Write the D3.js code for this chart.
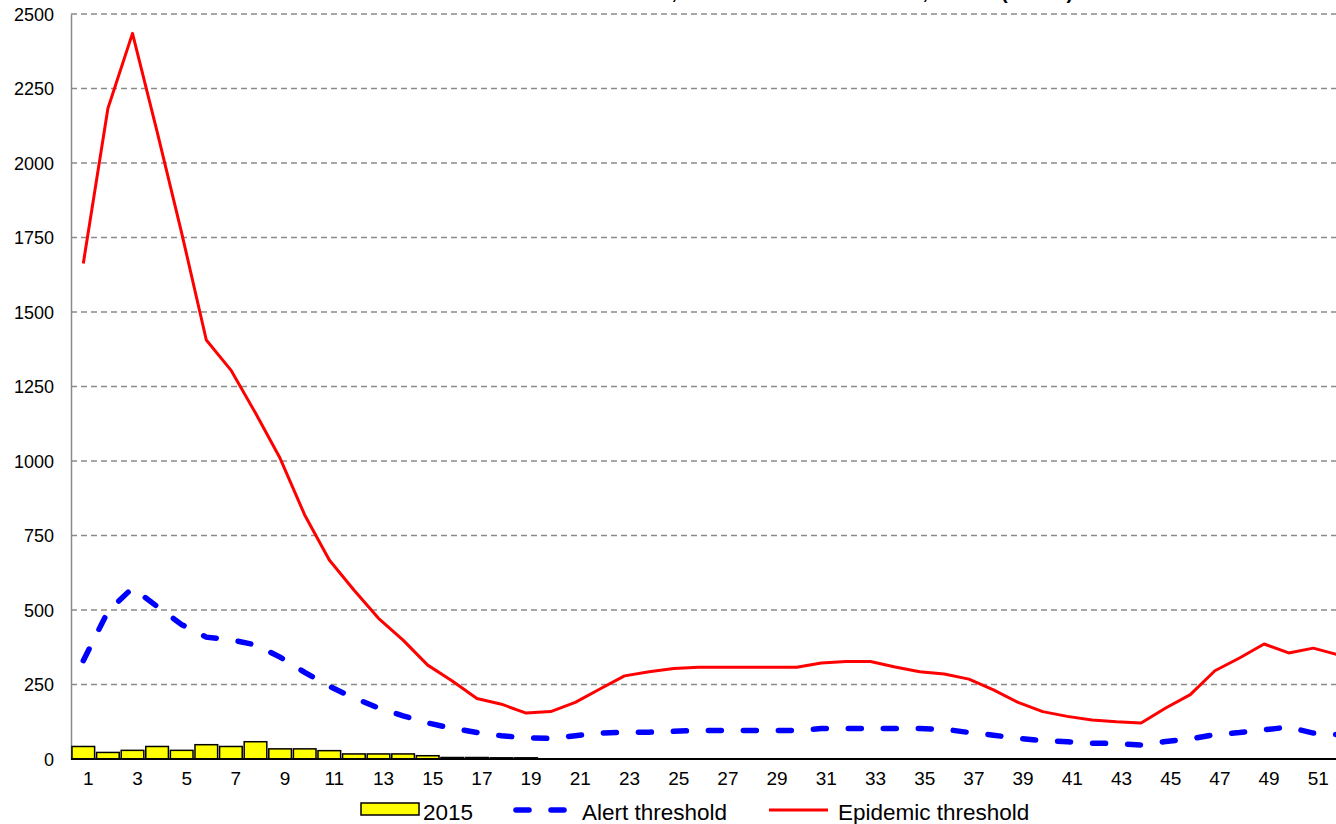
<!DOCTYPE html>
<html>
<head>
<meta charset="utf-8">
<script src="https://cdn.jsdelivr.net/npm/d3@7"></script>
<style>
	body { margin: 0; background: #fff; overflow: hidden; }
	svg { display: block; font-family: Arial, "Liberation Sans", sans-serif; }
</style>
</head>
<body>
<div id="chart"></div>
<script>
// weeks 1..52
var weeks = d3.range(1, 53);
var weekLabels = weeks.filter(function(w){ return w % 2 === 1; });
var yTicks = [0, 250, 500, 750, 1000, 1250, 1500, 1750, 2000, 2250, 2500];

// 2015 cases (weeks 1..19)
var cases2015 = [42, 22, 29, 42, 29, 48, 42, 58, 34, 34, 28, 17, 17, 17, 11, 5, 5, 4, 4];

var alertThreshold = [330, 495, 574, 512, 451, 409, 400, 383, 342, 291,
	244, 205, 171, 145, 121, 103, 89, 78, 71, 69,
	78, 87, 90, 90, 93, 96, 96, 96, 96, 96,
	102, 102, 102, 102, 102, 100, 89, 80, 69, 62,
	58, 53, 52, 47, 59, 67, 82, 89, 98, 107,
	87, 82];

var epidemicThreshold = [1663, 2183, 2435, 2105, 1765, 1406, 1305, 1161, 1009, 819,
	668, 567, 472, 399, 315, 262, 203, 184, 154, 159,
	190, 235, 279, 293, 304, 308, 308, 308, 308, 308,
	322, 327, 327, 309, 293, 285, 268, 232, 190, 159,
	143, 131, 125, 121, 171, 216, 296, 339, 386, 356,
	372, 350];

var width = 1336, height = 824;
var plotLeft = 71, plotTop = 14, plotBottom = 759, step = 24.6;

var svg = d3.select("#chart").append("svg")
	.attr("width", width)
	.attr("height", height);

var x = d3.scaleBand().domain(weeks).range([plotLeft, plotLeft + weeks.length * step]).paddingInner(0.08).paddingOuter(0.04);
var y = d3.scaleLinear().domain([0, 2500]).range([plotBottom, plotTop]);

function cx(w){ return x(w) + x.bandwidth() / 2; }

// title, sits above the visible area (only descenders show)
var title = svg.append("g")
	.attr("font-weight", "bold")
	.attr("font-size", "20px")
	.attr("fill", "#000");
title.append("text").attr("x", 677).attr("y", -1.5).attr("text-anchor", "end").text("Malaria cases and thresholds,");
title.append("text").attr("x", 928).attr("y", -1.5).attr("text-anchor", "end").text("Health District,");
title.append("text").attr("x", 936).attr("y", -1.5).text("2015");
title.append("text").attr("x", 1001).attr("y", -1.5).text("(W1-19)");

// gridlines
svg.append("g")
		.attr("class", "grid")
		.selectAll("line")
		.data(yTicks.filter(function(t){ return t > 0; }))
	.enter().append("line")
		.attr("x1", plotLeft)
		.attr("x2", width)
		.attr("y1", function(t){ return y(t); })
		.attr("y2", function(t){ return y(t); })
		.attr("stroke", "#8a8a8a")
		.attr("stroke-width", 1.4)
		.attr("stroke-dasharray", "6,4");

// y axis
var yAxis = svg.append("g")
	.attr("transform", "translate(" + plotLeft + ",0)")
	.call(d3.axisLeft(y).tickValues(yTicks).tickFormat(d3.format("d")).tickSize(0).tickPadding(17));
yAxis.select(".domain").attr("stroke", "#8a8a8a").attr("stroke-width", 1.5);
yAxis.selectAll("text")
	.attr("font-size", "18px")
	.attr("fill", "#000")
	.attr("dy", "0.36em");

// bars
svg.append("g")
		.attr("class", "bars")
		.selectAll("rect")
		.data(cases2015)
	.enter().append("rect")
		.attr("x", function(d, i){ return x(weeks[i]); })
		.attr("width", x.bandwidth())
		.attr("y", function(d){ return y(d); })
		.attr("height", function(d){ return y(0) - y(d); })
		.attr("fill", "#ffff00")
		.attr("stroke", "#000")
		.attr("stroke-width", 1.5);

// x axis
var xAxis = svg.append("g")
	.attr("transform", "translate(0," + plotBottom + ")")
	.call(d3.axisBottom(x).tickValues(weekLabels).tickSize(0).tickPadding(13));
xAxis.select(".domain").remove();
xAxis.selectAll("text")
	.attr("font-size", "19px")
	.attr("fill", "#000")
	.attr("dx", "5px");
svg.append("line")
	.attr("x1", plotLeft)
	.attr("x2", width)
	.attr("y1", plotBottom)
	.attr("y2", plotBottom)
	.attr("stroke", "#000")
	.attr("stroke-width", 2);

var line = d3.line()
	.x(function(d, i){ return cx(weeks[i]); })
	.y(function(d){ return y(d); });

svg.append("path")
	.datum(alertThreshold)
	.attr("d", line)
	.attr("fill", "none")
	.attr("stroke", "#0000ff")
	.attr("stroke-width", 5.5)
	.attr("stroke-linecap", "round")
	.attr("stroke-dasharray", "13,22");

svg.append("path")
	.datum(epidemicThreshold)
	.attr("d", line)
	.attr("fill", "none")
	.attr("stroke", "#ff0000")
	.attr("stroke-width", 3)
	.attr("stroke-linejoin", "round");

// legend
var legend = svg.append("g").attr("font-size", "22.5px").attr("fill", "#000");
legend.append("rect")
	.attr("x", 361).attr("y", 803).attr("width", 58).attr("height", 12)
	.attr("fill", "#ffff00").attr("stroke", "#000").attr("stroke-width", 1.5);
legend.append("text").attr("x", 423).attr("y", 820).text("2015");
legend.append("line")
	.attr("x1", 516).attr("x2", 567).attr("y1", 810).attr("y2", 810)
	.attr("stroke", "#0000ff").attr("stroke-width", 5.5)
	.attr("stroke-linecap", "round").attr("stroke-dasharray", "13,22");
legend.append("text").attr("x", 582).attr("y", 820).text("Alert threshold");
legend.append("line")
	.attr("x1", 769).attr("x2", 828).attr("y1", 810).attr("y2", 810)
	.attr("stroke", "#ff0000").attr("stroke-width", 3);
legend.append("text").attr("x", 838).attr("y", 820).text("Epidemic threshold");
</script>
</body>
</html>
